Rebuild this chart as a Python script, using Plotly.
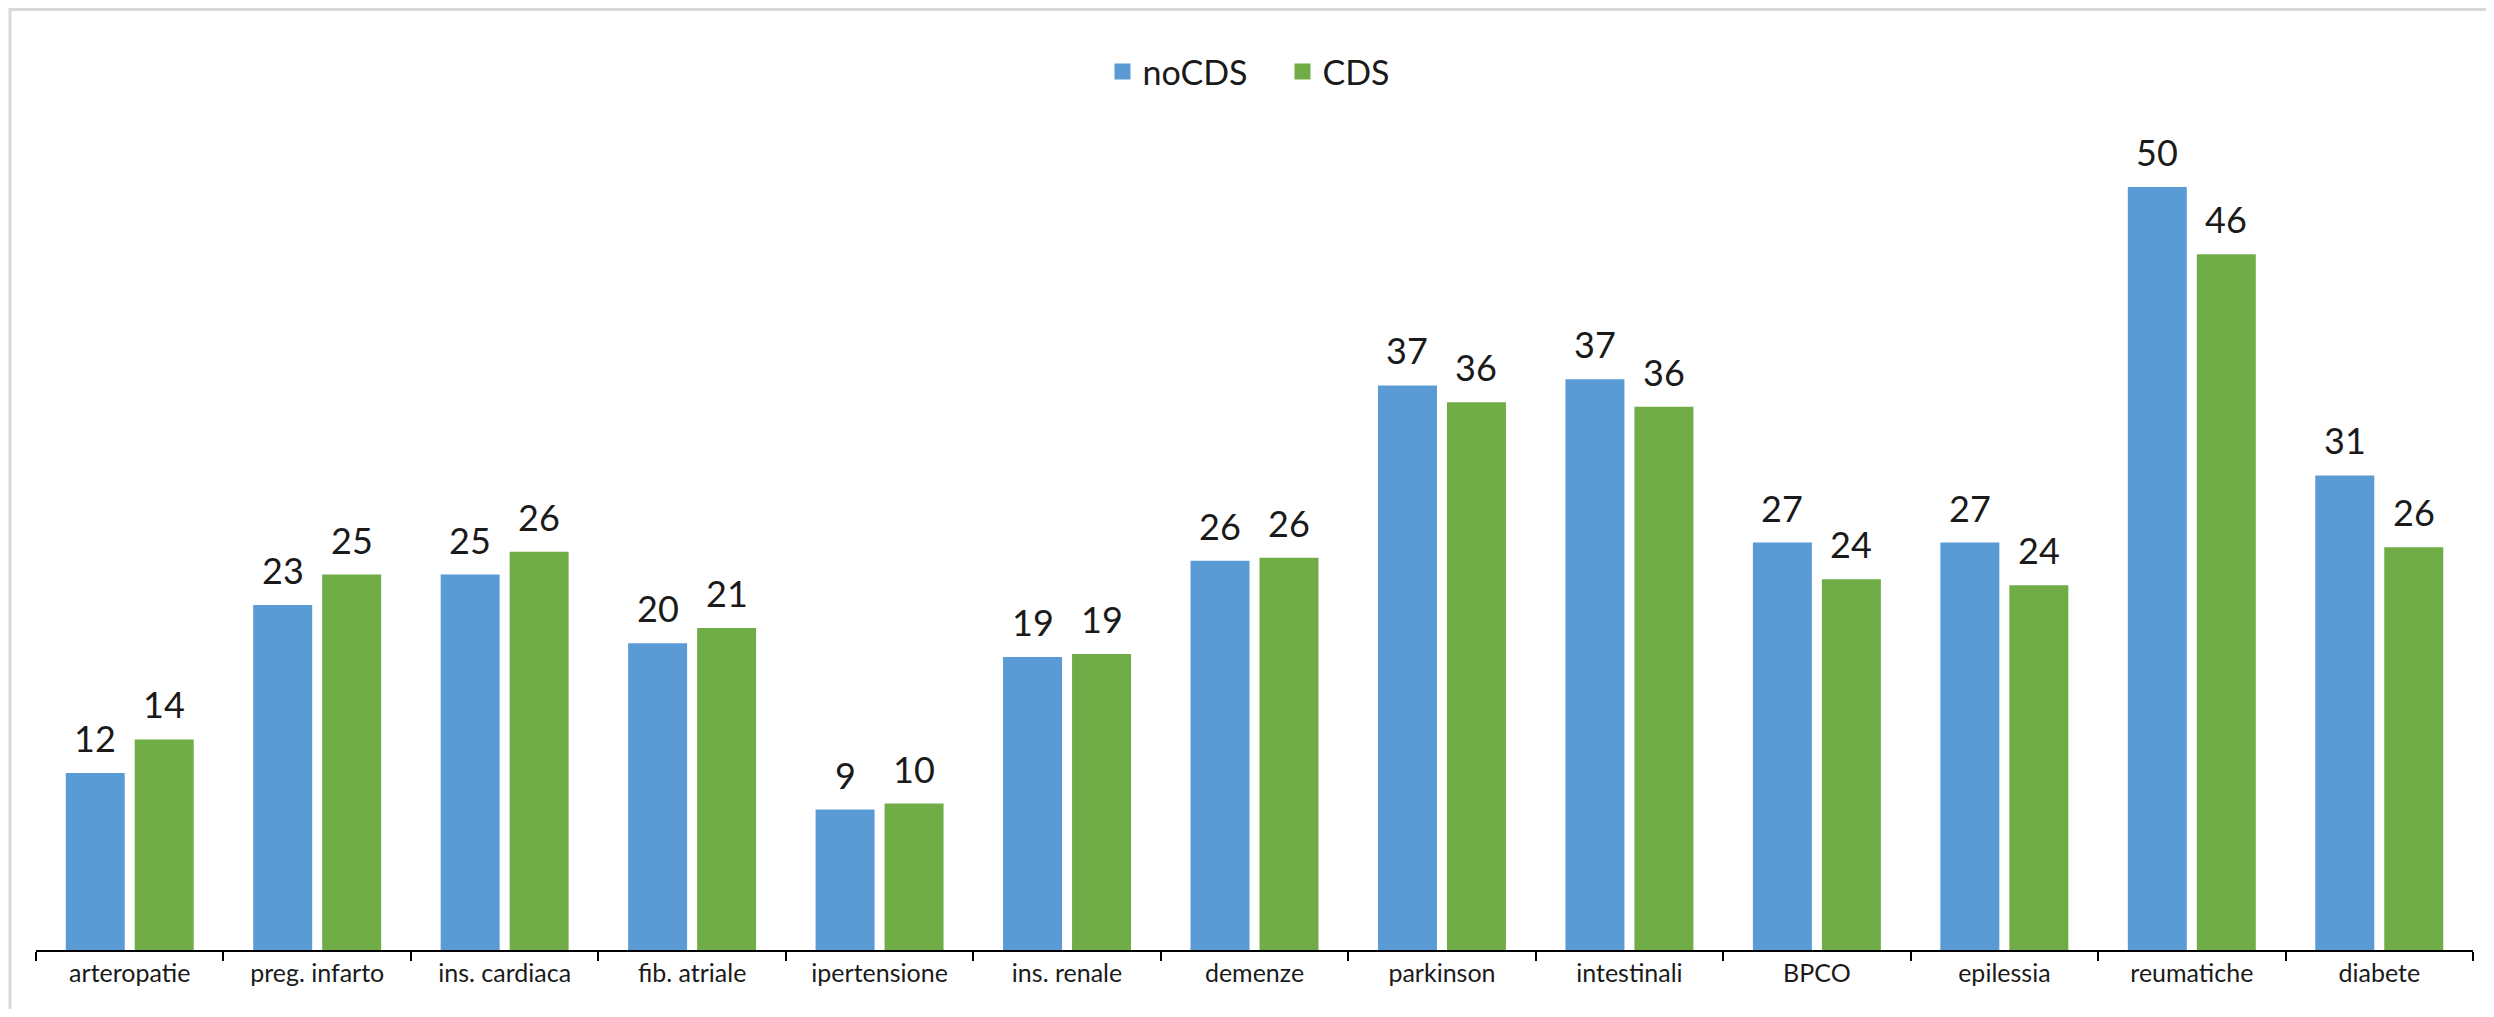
import plotly.graph_objects as go

categories = ["arteropatie", "preg. infarto", "ins. cardiaca", "fib. atriale", "ipertensione",
              "ins. renale", "demenze", "parkinson", "intestinali", "BPCO", "epilessia",
              "reumatiche", "diabete"]
no_cds = [11.6, 22.6, 24.6, 20.1, 9.2, 19.2, 25.5, 37.0, 37.4, 26.7, 26.7, 50.0, 31.1]
cds = [13.8, 24.6, 26.1, 21.1, 9.6, 19.4, 25.7, 35.9, 35.6, 24.3, 23.9, 45.6, 26.4]

# page body adds ~8px offset, so work in page coords minus 8
OFF = 8
W, H = 2494 - 2 * OFF, 1017 - 2 * OFF
ml, mr, mt, mb = 36 - OFF, 2494 - 2473 - OFF, 111 - OFF, 1017 - 950 - OFF
pw, ph = W - ml - mr, H - mt - mb
slot = pw / len(categories)

fig = go.Figure()
series = [("noCDS", no_cds, "#5B9BD5", -1), ("CDS", cds, "#70AD47", 1)]
for name, vals, color, side in series:
    fig.add_trace(go.Bar(
        x=categories, y=vals, name=name, marker=dict(color=color, line=dict(width=0)),
        showlegend=False, hoverinfo="x+y",
    ))
    # value labels
    for c, v in zip(categories, vals):
        fig.add_annotation(x=c, y=v, text=f"{v:.0f}", showarrow=False, yanchor="bottom",
                           yshift=11, xshift=side * slot * 0.736 / 4,
                           font=dict(size=36, color="#1a1a1a", family="Lato"))
    # legend entry
    fig.add_trace(go.Scatter(x=[None], y=[None], mode="markers", name=name,
                             marker=dict(symbol="square", size=22, color=color)))

# light grey chart frame
fig.add_shape(type="rect", xref="paper", yref="paper",
              x0=(2 - ml) / pw, x1=(W + 20 - ml) / pw,
              y0=-(mb + 20) / ph, y1=1 + (mt - 1.5) / ph,
              line=dict(color="#d9d9d9", width=3), fillcolor="rgba(0,0,0,0)", layer="below")

fig.update_layout(
    width=W, height=H, margin=dict(l=ml, r=mr, t=mt, b=mb),
    paper_bgcolor="white", plot_bgcolor="white",
    barmode="group", bargap=0.264, bargroupgap=0.145,
    font=dict(family="Lato", color="#1a1a1a"),
    legend=dict(orientation="h", x=0.5 + 28 / pw, xanchor="center", y=1 + (mt - (72 - OFF)) / ph,
                yanchor="middle", font=dict(size=34, color="#1a1a1a"), itemwidth=30, entrywidth=135),
    showlegend=True,
    xaxis=dict(showline=True, linecolor="black", linewidth=2, ticks="outside", tickson="boundaries",
               ticklen=9, tickwidth=2, tickcolor="black", tickfont=dict(size=25, color="#1a1a1a"),
               showgrid=False),
    yaxis=dict(range=[0, ph / 15.26], visible=False, showgrid=False),
)

fig.write_html("out.html")
